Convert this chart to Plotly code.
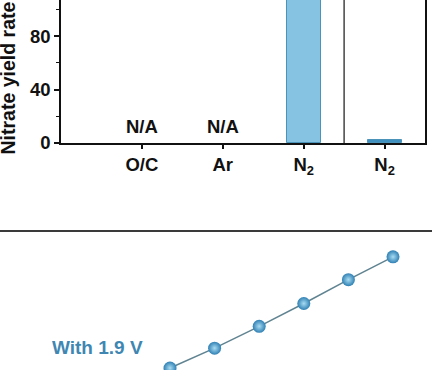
import plotly.graph_objects as go

# ---- top panel data ----
categories = ["O/C", "Ar", "N<sub>2</sub>", "N<sub>2</sub>"]
yield_rate = [0, 0, 320, 2]
na_flags = [True, True, False, False]
bar_colors = ["#86c3e3", "#86c3e3", "#86c3e3", "#3f8fbf"]
y_ticks = [0, 40, 80]

# ---- bottom panel data ----
time_h = [1, 2, 3, 4, 5, 6]
nitrate_conc = [0.2, 2.2, 4.4, 6.7, 9.1, 11.4]
label_text = "With 1.9 V"

W, H = 432, 370
FONT = "Liberation Sans, Arial, sans-serif"
xpos = list(range(1, len(categories) + 1))
edge_widths = [0 if f else 1 for f in na_flags]

fig = go.Figure()
fig.add_trace(go.Bar(
    x=xpos, y=yield_rate, width=0.42,
    marker=dict(color=bar_colors, line=dict(color="#4b93b8", width=edge_widths)),
    xaxis="x", yaxis="y", showlegend=False))

fig.add_trace(go.Scatter(
    x=time_h, y=nitrate_conc, mode="lines+markers",
    line=dict(color="#5f8391", width=1.5),
    marker=dict(size=13, color="#2f80b4",
                gradient=dict(type="radial", color="#a9dcf2"),
                line=dict(width=0)),
    xaxis="x2", yaxis="y2", showlegend=False))

top_bottom = (370 - 143) / H
bot_top = (370 - 231) / H

annotations = []
for xi, flag in zip(xpos, na_flags):
    if flag:
        annotations.append(dict(x=xi, y=0, xref="x", yref="y", text="<b>N/A</b>",
                                showarrow=False, yanchor="bottom", yshift=4,
                                font=dict(family=FONT, size=18.5, color="#111")))
annotations.append(dict(x=7 / W, y=(370 - 157) / H, xref="paper", yref="paper",
                        text="<b>Nitrate yield rate</b>", textangle=-90,
                        showarrow=False, xanchor="center", yanchor="bottom",
                        font=dict(family=FONT, size=19.5, color="#111")))
annotations.append(dict(x=97 / W, y=(370 - 347) / H, xref="paper", yref="paper",
                        text="<b>" + label_text + "</b>", showarrow=False,
                        xanchor="center", yanchor="middle",
                        font=dict(family=FONT, size=19, color="#3f87b2")))

shapes = [
    dict(type="line", xref="x", yref="paper", x0=3.5, x1=3.5, y0=top_bottom, y1=1,
         line=dict(color="#444", width=1.5)),
    dict(type="line", xref="paper", yref="paper", x0=0, x1=1, y0=bot_top, y1=bot_top,
         line=dict(color="#3a3a3a", width=2)),
]

fig.update_layout(
    template="none",
    width=W, height=H, autosize=False,
    margin=dict(l=0, r=0, t=0, b=0, pad=0),
    paper_bgcolor="white", plot_bgcolor="white",
    font=dict(family=FONT, size=18, color="#111"),
    bargap=0, showlegend=False,
    xaxis=dict(domain=[61 / W, 425 / W], range=[0, 4.5], tickvals=xpos,
               ticktext=["<b>" + c + "</b>" for c in categories],
               showline=True, linecolor="#111", linewidth=2,
               ticks="outside", ticklen=4, tickwidth=1.5, tickcolor="#111",
               showgrid=False, zeroline=False, anchor="y", automargin=False,
               tickfont=dict(family=FONT, size=18.5, color="#111")),
    yaxis=dict(domain=[top_bottom, 1], range=[0, 107], tickvals=y_ticks,
               ticktext=["<b>%d</b>" % v for v in y_ticks],
               showline=True, linecolor="#111", linewidth=1.5, mirror=True,
               ticks="outside", ticklen=5, tickwidth=1.5, tickcolor="#111",
               minor=dict(tick0=0, dtick=20, ticks="outside", ticklen=3,
                          tickwidth=1, tickcolor="#111"),
               showgrid=False, zeroline=False, anchor="x", automargin=False,
               tickfont=dict(family=FONT, size=18.5, color="#111")),
    xaxis2=dict(domain=[0, 1], range=[1 - 170 / 44.6, 1 + 262 / 44.6],
                visible=False, anchor="y2", automargin=False),
    yaxis2=dict(domain=[0, bot_top], range=[0, 14], visible=False, anchor="x2",
                automargin=False),
    annotations=annotations,
    shapes=shapes,
)

fix = """
document.documentElement.style.margin='0';
document.documentElement.style.overflow='hidden';
document.body.style.margin='0';
document.body.style.overflow='hidden';
"""
fig.write_html("out.html", post_script=fix)
